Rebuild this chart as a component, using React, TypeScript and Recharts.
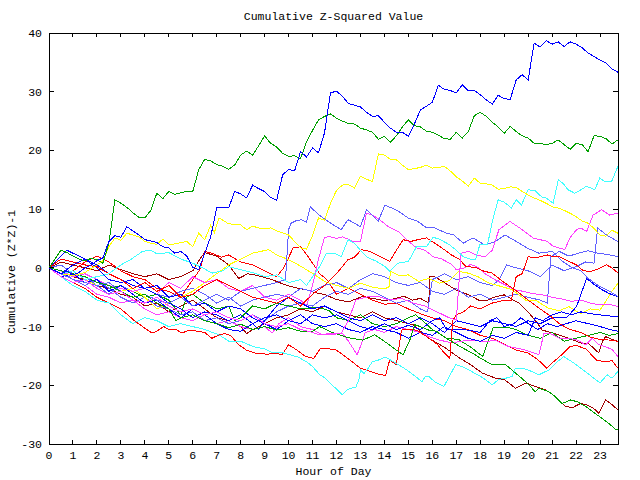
import { LineChart, Line, XAxis, YAxis, ReferenceArea } from "recharts";

// plot frame in page pixels (gnuplot-style box)
const PLOT_LEFT = 49;
const PLOT_RIGHT = 618;
const PLOT_TOP = 33;
const PLOT_BOTTOM = 444;
const FONT = '"Liberation Mono", "DejaVu Sans Mono", monospace';

const HOUR_TICKS = Array.from({ length: 24 }, (_, i) => i);
const VALUE_TICKS = [-30, -20, -10, 0, 10, 20, 30, 40];

type Pt = [number, number];

// [hour, cumulative value]
const blueTop: Pt[] = [[0,0],[0.25,-0.5],[0.5,-1],[0.75,-0.5],[1,-1.2],[1.25,-0.8],[1.5,0],[1.75,0.5],[2,1.2],[2.25,1.7],[2.5,4.5],[2.75,5.5],[3,5.2],[3.25,7],[3.5,6.3],[3.75,5.6],[4,4.8],[4.25,4.6],[4.5,4.3],[4.75,3.6],[5,3.4],[5.25,2.5],[5.5,2.8],[5.75,2],[6,0.1],[6.25,-0.3],[6.5,2.5],[6.75,5.3],[7,10.2],[7.25,10.3],[7.5,10.2],[7.75,13],[8,12.6],[8.25,11.9],[8.5,14.1],[8.75,13.5],[9,13],[9.25,12],[9.5,11.5],[9.75,15.8],[10,16.8],[10.25,16.5],[10.5,19.8],[10.75,18.9],[11,20.4],[11.25,19.6],[11.5,23],[11.75,29.8],[12,30.1],[12.25,29.2],[12.5,28],[12.75,27.7],[13,27.4],[13.25,26.5],[13.5,25.8],[13.75,25.9],[14,24.8],[14.25,23.8],[14.5,23.1],[14.75,23.1],[15,22.4],[15.25,24.5],[15.5,26.9],[15.75,27.5],[16,28.2],[16.25,31.1],[16.5,30.4],[16.75,30.2],[17,29.8],[17.25,31.2],[17.5,30.2],[17.75,30.2],[18,29.5],[18.25,28.6],[18.5,27.9],[18.75,29.4],[19,28.8],[19.25,28.7],[19.5,32],[19.75,32.9],[20,32],[20.25,38.3],[20.5,37.6],[20.75,38.7],[21,38.1],[21.25,38.5],[21.5,37.7],[21.75,38.5],[22,38.1],[22.25,37.5],[22.5,36.6],[22.75,36],[23,35.4],[23.25,34.9],[23.5,33.9],[23.75,33.3]];
const greenTop: Pt[] = [[0,0],[0.25,1.5],[0.5,3],[0.75,2.6],[1,2],[1.25,1.5],[1.5,1.2],[1.75,1.6],[2,1.4],[2.25,0.8],[2.5,4.2],[2.75,11.6],[3,11],[3.25,10.3],[3.5,9.4],[3.75,8.6],[4,8.5],[4.25,9.8],[4.5,12.7],[4.75,11.8],[5,13],[5.25,12.5],[5.5,12.8],[5.75,13],[6,13],[6.25,16.7],[6.5,18.5],[6.75,18.2],[7,17.6],[7.25,17.3],[7.5,16.8],[7.75,17.5],[8,19.2],[8.25,19.9],[8.5,19.2],[8.75,20.8],[9,22.5],[9.25,21.2],[9.5,20.6],[9.75,19.5],[10,19],[10.25,19.1],[10.5,18.6],[10.75,21.5],[11,23.4],[11.25,25.2],[11.5,25.8],[11.75,26.2],[12,25.5],[12.25,25],[12.5,24.6],[12.75,24.5],[13,23.8],[13.25,23.5],[13.5,23.1],[13.75,21.9],[14,22.4],[14.25,21.4],[14.5,22.5],[14.75,24],[15,25.2],[15.25,24.2],[15.5,24],[15.75,23.3],[16,23.1],[16.25,22.6],[16.5,22],[16.75,21.9],[17,23.1],[17.25,22.1],[17.5,23.2],[17.75,25.9],[18,26.5],[18.25,25.8],[18.5,24.8],[18.75,24],[19,22.9],[19.25,24.1],[19.5,23.2],[19.75,22.5],[20,22.1],[20.25,21.2],[20.5,21.2],[20.75,21],[21,21.2],[21.25,21.8],[21.5,21],[21.75,20.2],[22,21.2],[22.25,21],[22.5,19.8],[22.75,22.5],[23,22.4],[23.25,22],[23.5,21.1],[23.75,21.8]];
const yellowTop: Pt[] = [[0,0],[0.5,-1],[1,-1.3],[1.5,-0.8],[2,0.5],[2.25,1.2],[2.5,3.6],[2.75,5.1],[3,4.7],[3.25,5.9],[3.5,5.6],[3.75,5.3],[4,4.5],[4.25,4.2],[4.5,4],[4.75,4.9],[5,3.9],[5.25,4.1],[5.5,4.3],[5.75,4.5],[6,3.6],[6.25,5.9],[6.5,4.8],[6.75,7.3],[6.9,6],[7.1,8.5],[7.5,7.5],[7.75,7.4],[8,7.3],[8.25,6.5],[8.5,7.1],[8.75,6.8],[9,6.7],[9.25,6.8],[9.5,6.3],[10,5.6],[10.25,4.5],[10.5,3.4],[10.75,3.2],[11,5.5],[11.25,8.5],[11.5,8.1],[11.75,11],[12,13.2],[12.25,14.1],[12.5,14.2],[12.75,13.6],[13,15.6],[13.25,15.1],[13.5,14.7],[13.75,19.4],[14,19.2],[14.25,18.5],[14.5,18.4],[14.75,17.5],[15,16.7],[15.25,16.9],[15.5,17.1],[15.75,17.5],[16,17],[16.25,17.1],[16.5,17.3],[16.75,16.5],[17,15.5],[17.25,14.8],[17.5,13.9],[17.75,15.3],[18,14.4],[18.25,14.3],[18.5,14.1],[18.75,13.4],[19,13.5],[19.25,13.8],[19.5,13.7],[19.75,13],[20,12.4],[20.25,11.9],[20.5,11.5],[20.75,11],[21,10.4],[21.25,10.2],[21.5,9.8],[21.75,9.3],[22,8.7],[22.25,8],[22.5,7.6],[22.75,6.7],[23,5.6],[23.25,5.4],[23.5,6.4],[23.75,5.9]];
const cyanTop: Pt[] = [[0,0],[0.5,-1],[1,-0.5],[1.5,-2],[2,-1.5],[2.5,-1],[3,0.5],[3.4,1.4],[3.9,2.8],[4.25,3],[4.5,2.4],[5,2.6],[5.5,1.5],[6,0.8],[6.5,-0.2],[6.8,-0.9],[7.25,-0.5],[7.5,0.2],[8,-0.3],[8.5,-0.8],[9,-1.5],[9.5,-1.2],[10,-2.5],[10.5,-2],[10.75,-3],[11,-1.5],[11.3,0.2],[11.58,2.5],[11.9,2.5],[12.2,1.9],[12.48,4.8],[12.75,4.2],[13,3],[13.25,1.9],[13.67,1.1],[14,0.3],[14.22,-0.6],[14.57,0.8],[15,1.1],[15.34,3.6],[15.75,3.6],[16.03,5.2],[16.3,4.9],[16.73,3.9],[17,3],[17.29,1.9],[17.64,1.4],[17.8,1.4],[17.98,3.9],[18.3,3.9],[18.54,8.5],[18.75,11.6],[19,11.2],[19.3,10.2],[19.5,11.6],[19.72,10.7],[20,13.3],[20.3,13.1],[20.56,12.1],[20.75,11.9],[21.04,11],[21.26,15],[21.45,14.4],[21.67,13.3],[21.95,12.7],[22.2,13.3],[22.44,13.9],[22.78,13.3],[22.99,15.3],[23.2,14.7],[23.48,14.7],[23.75,17.3]];
const magentaHigh: Pt[] = [[0,0],[0.5,-1.5],[1,-2.5],[1.5,-2],[2,-3.5],[2.5,-4.5],[3,-4],[3.5,-5.5],[4,-6],[4.5,-5],[5,-6.5],[5.5,-7.5],[6,-7],[6.5,-8],[7,-7.5],[7.5,-8.5],[8,-9],[8.5,-8],[9,-9.5],[9.5,-10],[10,-9.5],[10.5,-10.5],[11,-11],[11.3,-11.4],[11.7,-11.2],[12.2,-11.1],[12.5,-9],[12.8,-5.5],[13.2,-5],[13.7,-4.8],[14.2,-5.5],[14.7,-5.2],[15.2,-6],[15.7,-6.5],[16.2,-7.5],[16.7,-8.5],[17,-8.9],[17.2,2.5],[17.52,2.8],[17.8,2.2],[18.2,1.9],[18.5,3],[18.78,6.5],[19.24,7.9],[19.65,6.8],[20.2,5.1],[20.8,4.5],[21.04,3.7],[21.53,3.1],[21.74,5.1],[22.02,6.5],[22.2,6.8],[22.44,6.2],[22.71,9],[23.07,9.9],[23.4,9],[23.75,9.3]];
const magentaMid: Pt[] = [[0,0],[0.5,-0.5],[1,-1.5],[1.5,-1],[2,-2],[2.5,-3],[3,-3.5],[3.5,-4],[4,-3.5],[4.5,-4.5],[5,-2.5],[5.5,-3.5],[6,-1.5],[6.5,-2.5],[7,-2],[7.5,-3.5],[8,-4],[8.5,-3],[9,-5],[9.5,-5.5],[10,-4.5],[10.5,-5.5],[10.75,-6.5],[11,-3],[11.25,1.5],[11.5,5.2],[11.72,5.3],[12,5],[12.25,5.3],[12.7,4.5],[13,4.5],[13.25,9.3],[13.5,9],[13.9,7.9],[14.16,7],[14.6,6.1],[14.92,4.8],[15.34,3.4],[15.7,3],[16.03,1.9],[16.4,1.5],[16.8,0.6],[17,-0.3],[17.3,-0.1],[17.6,0.6],[17.9,0.1],[18.2,-1],[18.6,-2],[19,-2.8],[19.4,-3.7],[19.8,-4],[20.2,-4.4],[20.6,-4.6],[21,-5],[21.4,-5.3],[21.8,-5.7],[22.2,-5.5],[22.6,-6],[23,-6.3],[23.4,-6.2],[23.75,-6.6]];
const magentaLow: Pt[] = [[0,0],[0.5,-1],[1,-2],[1.5,-3],[2,-4.5],[2.5,-5],[3,-6],[3.5,-5.5],[4,-7],[4.5,-8],[5,-7.5],[5.5,-8.5],[6,-9],[6.5,-8],[7,-9.5],[7.5,-9],[8,-10],[8.5,-10.5],[9,-10],[9.31,-11.1],[9.6,-9.5],[10,-8.5],[10.5,-10],[11,-10.5],[11.4,-11.4],[11.8,-11.4],[12.23,-11.1],[12.5,-12.5],[12.86,-14.8],[13,-13.4],[13.2,-11],[13.6,-10.5],[14,-11],[14.5,-10],[15,-10.5],[15.5,-11],[15.85,-11.7],[16.3,-12.3],[16.83,-12.8],[17.2,-12.5],[17.66,-12.3],[18.2,-12.6],[18.6,-12.3],[19.19,-13.4],[19.7,-13.8],[20.1,-14.3],[20.45,-14.8],[20.66,-11.1],[21,-11.3],[21.3,-12],[21.7,-12],[22.05,-12.3],[22.4,-13.1],[22.67,-12],[22.95,-13.1],[23.2,-13.4],[23.5,-13.9],[23.75,-15.1]];
const slateA: Pt[] = [[0,0],[0.5,-1],[1,-2],[1.5,-2.5],[2,-3],[2.5,-2.5],[3,-4],[3.5,-5],[4,-4.5],[4.5,-5.5],[5,-6],[5.5,-5],[6,-6.5],[6.5,-5.5],[7,-4.5],[7.5,-5.5],[8,-4],[8.5,-3.5],[9,-3],[9.5,-2.5],[9.87,-2],[10,6.5],[10.1,7.6],[10.3,8],[10.54,8.2],[10.75,7.8],[10.91,10.4],[11.19,9.3],[11.5,8.3],[11.8,7.5],[12.2,6.5],[12.48,8.2],[12.8,7.5],[13,7],[13.25,9.9],[13.74,7.9],[14.02,10.7],[14.3,10.2],[14.6,9.6],[14.99,8.5],[15.4,7.9],[15.76,6.8],[16.1,6.8],[16.59,5.9],[16.9,5.6],[17.29,4.2],[17.7,5.1],[18.19,3.9],[18.6,4.4],[19.03,5.6],[19.5,4.5],[20,3.3],[20.45,2.5],[21,2.8],[21.4,1.2],[21.8,0.1],[22.2,-0.5],[22.5,-1.8],[23,-3.2],[23.4,-4],[23.75,-4.9]];
const slateB: Pt[] = [[0,0],[0.5,0.5],[1,-1],[1.5,-1.5],[2,-3],[2.5,-4.5],[3,-3],[3.5,-4],[4,-3.5],[4.5,-4.5],[5,-5],[5.5,-4],[6,-3.5],[6.5,-4.5],[7,-6],[7.5,-5],[8,-6.5],[8.5,-5.5],[9,-5],[9.5,-4.5],[10,-5],[10.5,-3.5],[11,-4],[11.5,-3],[12,-2.5],[12.5,-3.5],[13,-2],[13.5,-1],[14,-1.5],[14.5,-2.5],[15,-3],[15.5,-2.5],[16,-4],[16.5,-4.5],[17,-3.5],[17.5,-5],[18,-4.5],[18.5,-5.5],[19,-5],[19.5,-4.5],[20,-5],[20.5,-5.5],[20.8,-6],[20.95,1.9],[21.3,2.8],[21.7,2],[22.1,2.5],[22.5,2.9],[22.9,2.5],[23.3,2.3],[23.75,1.9]];
const slateD: Pt[] = [[0,0],[0.5,-0.5],[1,-2],[1.5,-3],[2,-2],[2.5,-3.5],[3,-5],[3.5,-6],[4,-5],[4.5,-6.5],[5,-7],[5.5,-8],[6,-7.5],[6.5,-9],[7,-8.5],[7.5,-9.5],[8,-9],[8.5,-8],[9,-9],[9.5,-7.5],[10,-6.5],[10.5,-6],[11,-6.5],[11.5,-5],[12,-4],[12.5,-4.5],[13,-3.5],[13.5,-4],[14,-5],[14.5,-6],[15,-5.5],[15.5,-7],[15.8,-7.5],[16,-2],[16.5,-1],[17,-2],[17.5,-1.5],[18,-2.5],[18.5,-3],[18.8,-2],[19.1,0.5],[19.5,0],[20,-0.5],[20.5,-1.5],[21,0.5],[21.5,-0.5],[22,0.2],[22.4,1],[22.75,0.8],[22.9,6.8],[23.3,5.5],[23.75,4.5]];
const redA: Pt[] = [[0,0],[0.5,1.5],[1,1],[1.5,0.5],[2,0.2],[2.5,-1],[3,-2],[3.5,-3.5],[4,-2.5],[4.5,-4],[5,-3],[5.5,-5],[6,-4.5],[6.5,-3],[7,-2],[7.5,-3],[8,-4],[8.5,-5],[9,-5.5],[9.5,-6],[10,-5],[10.5,-6.5],[11,-4.5],[11.5,-3],[12,-1],[12.48,1.4],[12.75,1.8],[13.04,3.1],[13.4,2.8],[13.7,2.2],[14.22,1.1],[14.5,3],[14.78,4.8],[15.1,4.5],[15.4,4.8],[15.76,5.1],[16.1,4.2],[16.5,3.1],[16.8,2.2],[17.15,1.4],[17.4,0.2],[17.8,0.1],[18.1,-0.5],[18.5,-0.9],[19,-2.5],[19.54,-4],[20,-5.5],[20.5,-7],[20.86,-8],[21.3,-9.5],[21.74,-10.5],[22.2,-11],[22.6,-11.8],[23,-12.2],[23.4,-12.3],[23.75,-12.5]];
const redLow: Pt[] = [[0,0],[0.5,-1.5],[1,-2.5],[1.5,-3.5],[2,-5],[2.5,-6],[3,-7],[3.54,-8.9],[3.9,-10],[4.3,-11.1],[4.5,-10.8],[4.79,-10],[5,-10.5],[5.3,-10.5],[5.55,-11.1],[5.85,-10.6],[6.2,-10.8],[6.5,-11],[6.8,-12],[7.1,-11.4],[7.35,-11.2],[7.6,-11.6],[7.92,-13.1],[8.24,-14],[8.6,-14.5],[9.08,-14.7],[9.5,-14.6],[9.73,-14.8],[10,-13.1],[10.35,-14],[10.7,-15.1],[11.05,-15.4],[11.33,-13.7],[11.96,-13.9],[12.37,-15.1],[13,-17.1],[13.4,-17.6],[13.8,-18.2],[14.05,-18.3],[14.22,-15.7],[14.5,-16.5],[14.71,-10.6],[15,-10.5],[15.34,-10.6],[15.8,-11.8],[16.2,-13],[16.5,-14.5],[16.73,-15.4],[16.85,-9],[17,-8],[17.3,-7.5],[17.6,-6.5],[18,-7],[18.5,-6],[19,-5.5],[19.3,-5.5],[19.5,-1.5],[19.75,-1],[20,1.9],[20.3,1.7],[20.6,2],[20.8,2.2],[21.04,1.9],[21.3,1.9],[21.55,1.4],[22.02,0.5],[22.3,-0.5],[22.6,-0.6],[22.86,-0.3],[23.27,0.5],[23.5,0],[23.75,-0.9]];
const redC: Pt[] = [[0,0],[0.5,-1],[1,-0.5],[1.5,1],[2,2],[2.5,1],[3,-0.5],[3.5,-1.5],[4,-2],[4.5,-3.5],[5,-4],[5.5,-5],[6,-2],[6.3,-0.3],[6.5,2.8],[6.8,2.5],[7.2,1.8],[7.5,2.2],[8,1],[8.5,0.5],[9,-0.5],[9.5,-1.5],[9.8,0],[10.19,3.4],[10.5,3.6],[10.8,2],[11.3,-1],[11.6,-2],[12,-4.5],[12.5,-3.5],[13,-4.5],[13.5,-5.5],[14,-6.2],[14.5,-6],[15,-7],[15.5,-7.8],[16,-8.5],[16.5,-9],[17,-10],[17.5,-10.5],[18,-11.5],[18.5,-12],[19,-13],[19.5,-14],[20,-14.5],[20.4,-15.6],[20.77,-17.1],[21,-16.2],[21.4,-14.8],[21.74,-13.4],[22,-13.2],[22.4,-13.8],[22.86,-15.7],[23.2,-16],[23.5,-15.8],[23.75,-17.1]];
const darkRedLow: Pt[] = [[0,0],[0.5,-0.5],[1,-1.5],[1.5,-2],[2,-3],[2.5,-3.5],[3,-4.5],[3.5,-5],[4,-6.5],[4.5,-6],[5,-7.5],[5.5,-6.5],[6,-5.5],[6.5,-7],[7,-8.5],[7.5,-9],[8,-10],[8.25,-11.2],[8.5,-10.5],[9,-9.5],[9.5,-8.5],[10,-8],[10.5,-7],[11,-7.5],[11.5,-6.5],[12,-7.5],[12.5,-8],[13,-8.5],[13.5,-7.5],[14,-8.5],[14.5,-9],[15.2,-9.7],[15.85,-12],[16.5,-13.5],[17.15,-15.4],[17.6,-16.5],[18.08,-17.9],[18.64,-18.8],[19,-19],[19.47,-20.5],[19.9,-19.6],[20.3,-20.2],[20.73,-20.8],[21.14,-21.9],[21.56,-23.6],[21.85,-23.8],[22.19,-23.1],[22.5,-23.4],[22.75,-24],[22.95,-24.8],[23.23,-22.5],[23.5,-23.3],[23.75,-24.2]];
const darkRedMid: Pt[] = [[0,0],[0.5,1],[1,0.5],[1.5,0],[2,-0.5],[2.5,0.5],[3,-0.3],[3.5,-1],[4,-1.5],[4.5,-1],[5,-2],[5.5,-1.5],[6,-0.5],[6.3,1.5],[6.5,2.6],[7,2],[7.5,0.5],[7.92,-1.8],[8.3,-1],[8.7,-1.3],[9.31,-2],[9.8,-2.8],[10.2,-3.3],[10.7,-3.7],[11.1,-4.2],[11.54,-4.6],[12,-5.4],[12.5,-5.8],[13.07,-4.9],[13.5,-5.2],[14,-5.6],[14.5,-5.2],[14.8,-4.8],[15.16,-5.5],[15.5,-5.2],[15.85,-6],[15.9,-1.5],[16.1,-1.5],[16.5,-2.5],[17,-3.8],[17.52,-4.6],[17.94,-5.5],[18.3,-5.5],[18.64,-4.9],[19,-4.6],[19.3,-5.3],[19.61,-6],[20,-7.5],[20.3,-9],[20.59,-10.6],[21.2,-11.3],[21.7,-12],[22.19,-12.8],[22.5,-12.8],[22.95,-14.5],[23.1,-12.5],[23.23,-11.7],[23.5,-12.2],[23.75,-12.5]];
const greenLow: Pt[] = [[0,0],[0.5,-0.5],[1,-1],[1.5,-1.5],[2,-2.5],[2.5,-3],[3,-4],[3.5,-5],[4,-4.5],[4.5,-6],[5,-7],[5.3,-9],[5.5,-8.5],[6,-8],[6.5,-9],[7,-9.5],[7.5,-10.2],[8,-9.6],[8.5,-10.5],[9,-10],[9.5,-10.6],[10,-10.2],[10.5,-10.8],[11,-10.8],[11.3,-10],[11.7,-10.8],[12.1,-11.4],[12.6,-12],[13.1,-12.3],[13.6,-11.4],[14.1,-12.8],[14.5,-14],[14.78,-14.8],[15.06,-12.3],[15.27,-9.7],[15.5,-10],[15.85,-10.6],[16.17,-10.8],[16.5,-11.8],[16.83,-12.6],[17.2,-13.5],[17.66,-14.5],[18.1,-15.6],[18.5,-16.5],[19.06,-16.5],[19.47,-17.9],[19.9,-19.4],[20.3,-21.1],[20.45,-20.5],[20.86,-21.1],[21.15,-22],[21.42,-23.1],[21.77,-22.5],[22.05,-22.8],[22.4,-23.6],[22.8,-24.8],[23.1,-25.7],[23.37,-26.5],[23.65,-27.5],[23.75,-27.5]];
const greenMid: Pt[] = [[0,0],[0.5,-1],[1,-2],[1.5,-2.5],[2,-2],[2.5,-3.5],[3,-3],[3.5,-4],[4,-5],[4.5,-4.5],[5,-5.5],[5.5,-8],[5.75,-5],[6,-4.5],[6.5,-6],[7,-7],[7.5,-6.5],[7.75,-9],[8,-8.5],[8.5,-6.5],[9,-7],[9.5,-6],[10,-6.5],[10.5,-7],[11,-6.8],[11.3,-6.8],[11.7,-7.3],[12,-8.5],[12.5,-9],[13,-8],[13.5,-9.5],[14,-10],[14.5,-9.5],[15,-8.5],[15.3,-8],[15.6,-9],[16,-10.5],[16.6,-12],[17.1,-12.2],[17.6,-13.5],[18.1,-15.1],[18.4,-11.7],[18.55,-10.1],[19.1,-10.1],[19.5,-10.5],[20,-11.5],[20.5,-12],[21,-11],[21.5,-12.5],[22,-12],[22.5,-11.5],[23,-11],[23.4,-11.5],[23.75,-11.2]];
const yellowMid: Pt[] = [[0,0],[0.5,-1],[1,-0.5],[1.5,-2],[2,-3],[2.5,-2.5],[3,-4],[3.5,-3.5],[4,-5],[4.5,-7],[5,-6],[5.5,-5],[6,-4],[6.5,-2.5],[7,-1],[7.5,0.5],[8,1.5],[8.5,2.5],[9.17,3.1],[9.5,2.2],[10,1.4],[10.5,0.3],[11.1,-1.2],[11.5,-2.3],[12,-3],[12.5,-3.5],[13,-2.6],[13.5,-3.3],[14,-3.6],[14.2,-3.2],[14.25,-0.6],[14.6,-1.3],[15,-1.2],[15.43,-2.3],[15.85,-1.8],[16.3,-2.6],[16.7,-2.2],[17.1,-0.6],[17.5,-0.9],[17.9,-1.5],[18.36,-2.6],[18.9,-3.2],[19.33,-3.7],[19.9,-5.5],[20.3,-5.5],[20.86,-6.9],[21.3,-7.3],[21.7,-6.6],[22.2,-7.8],[22.6,-7],[23,-7.2],[23.3,-5.3],[23.5,-4],[23.75,-2.6]];
const cyanLow: Pt[] = [[0,0],[0.5,-1.5],[1,-3],[1.5,-4],[2,-5.5],[2.5,-6],[3,-8],[3.5,-9.5],[4,-8.5],[4.5,-9],[5,-10],[5.5,-9.5],[6,-10],[6.5,-10.5],[7.09,-11.4],[7.55,-12.6],[8,-12.5],[8.52,-13.4],[9,-13.8],[9.35,-14.5],[9.7,-14.4],[10.05,-14.8],[10.4,-15.2],[10.75,-16],[11,-16.8],[11.3,-18.2],[11.54,-18.8],[11.96,-20.5],[12.23,-21.6],[12.45,-20.8],[12.58,-20.5],[12.8,-20.4],[12.93,-19.1],[13,-17.4],[13.14,-18],[13.28,-17.4],[13.49,-16],[13.75,-15.7],[14.05,-15.2],[14.46,-16.2],[14.9,-17.3],[15.3,-18.5],[15.57,-19.4],[15.7,-18.5],[15.85,-18.5],[16.1,-19.4],[16.48,-20.2],[16.62,-19.2],[16.97,-16.5],[17.25,-16.8],[17.66,-17.7],[18.1,-18.7],[18.5,-19.9],[18.78,-19],[19.06,-18.8],[19.33,-18.5],[19.47,-17.1],[19.8,-17.1],[20,-17.4],[20.45,-18.2],[20.86,-17.4],[21.21,-16],[21.49,-15.1],[21.9,-16.2],[22.4,-17.7],[22.8,-19],[23,-19.6],[23.3,-18.2],[23.5,-18.8],[23.75,-17.6]];
const blueMid: Pt[] = [[0,0],[0.5,-1.5],[1,-1],[1.5,-2.5],[2,-2],[2.5,-4],[3,-3],[3.5,-4.5],[4,-6],[4.5,-5.5],[5,-7],[5.5,-8.5],[6,-7],[6.5,-8],[7,-9.5],[7.5,-10.5],[8,-10.8],[8.5,-9.5],[8.75,-10.5],[9,-9],[9.5,-6.5],[10,-5],[10.5,-6],[11,-7],[11.5,-6.5],[12,-7.5],[12.5,-8.5],[13,-9],[13.5,-8],[14,-9],[14.5,-8.5],[15,-9.5],[15.5,-8.5],[16,-9.5],[16.5,-11],[17,-9],[17.5,-9.5],[18,-10],[18.5,-9],[19,-9.5],[19.5,-10],[20,-9],[20.5,-9.5],[21,-8.5],[21.6,-8.5],[22.02,-6.6],[22.44,-1.8],[22.75,-2.8],[23.07,-3.7],[23.4,-4.4],[23.75,-4.9]];
const blueLow: Pt[] = [[0,0],[0.5,2],[0.75,3],[1,2.5],[1.5,1.5],[2,0.5],[2.5,-1],[3,-2],[3.5,-3],[4,-3.5],[4.5,-4.5],[5,-6],[5.5,-7],[6,-8.5],[6.5,-7.5],[7,-8],[7.5,-9],[8,-8],[8.5,-9.5],[9,-8.5],[9.5,-8],[10,-9],[10.5,-9.5],[11,-8],[11.5,-8.5],[12,-8],[12.5,-9],[13,-10],[13.5,-10.5],[14,-9.5],[14.5,-10.5],[15,-9.8],[15.5,-10.5],[16,-9],[16.3,-8.5],[16.6,-10.5],[17,-10.5],[17.5,-10.6],[18,-11],[18.4,-9],[18.7,-8.5],[19,-10],[19.4,-9.5],[19.7,-8.5],[20,-9.5],[20.4,-10.5],[20.8,-9.5],[21.2,-10],[21.6,-9.5],[22,-9],[22.5,-9.5],[23,-10],[23.4,-10.5],[23.75,-10.8]];
const blueLate: Pt[] = [[0,0],[0.5,-1],[1,0.5],[1.5,1.5],[2,0],[2.5,-2],[3,-2.5],[3.5,-2],[4,-3.5],[4.5,-3],[5,-5],[5.5,-4.5],[6,-6.5],[6.5,-6],[7,-7.5],[7.5,-6.5],[8,-7],[8.5,-8.5],[9,-9.5],[9.5,-10.5],[10,-9],[10.5,-8],[11,-9.5],[11.5,-10],[12,-9.5],[12.5,-10.5],[13,-11],[13.5,-10],[14,-10.5],[14.5,-11],[15,-12],[15.5,-11],[16,-11.5],[16.5,-10],[17,-11],[17.5,-12],[18,-12.5],[18.5,-11.5],[19,-12],[19.5,-11],[20,-11.5],[20.3,-8.5],[20.6,-9],[21,-8],[21.4,-7.5],[21.8,-8],[22.2,-7.5],[22.6,-7.8],[23,-8],[23.4,-8.2],[23.75,-8.3]];

const SERIES: { name: string; color: string; pts: Pt[] }[] = [
  { name: "darkRedLow", color: "#a00000", pts: darkRedLow },
  { name: "darkRedMid", color: "#a00000", pts: darkRedMid },
  { name: "redC", color: "#ff0000", pts: redC },
  { name: "greenMid", color: "#00a000", pts: greenMid },
  { name: "magentaLow", color: "#ff40ff", pts: magentaLow },
  { name: "slateB", color: "#6060ff", pts: slateB },
  { name: "slateD", color: "#6060ff", pts: slateD },
  { name: "yellowMid", color: "#ffff00", pts: yellowMid },
  { name: "magentaMid", color: "#ff40ff", pts: magentaMid },
  { name: "blueLate", color: "#0000ff", pts: blueLate },
  { name: "blueLow", color: "#0000ff", pts: blueLow },
  { name: "blueMid", color: "#0000ff", pts: blueMid },
  { name: "slateA", color: "#6060ff", pts: slateA },
  { name: "redA", color: "#ff0000", pts: redA },
  { name: "redLow", color: "#ff0000", pts: redLow },
  { name: "cyanLow", color: "#40ffff", pts: cyanLow },
  { name: "greenLow", color: "#00a000", pts: greenLow },
  { name: "magentaHigh", color: "#ff40ff", pts: magentaHigh },
  { name: "cyanTop", color: "#40ffff", pts: cyanTop },
  { name: "yellowTop", color: "#ffff00", pts: yellowTop },
  { name: "greenTop", color: "#00a000", pts: greenTop },
  { name: "blueTop", color: "#0000ff", pts: blueTop },
];

function HourTick(props: any) {
  const { x, y, payload } = props;
  const cx = payload.coordinate;
  return (
    <g>
      <line x1={cx} y1={PLOT_BOTTOM} x2={cx} y2={PLOT_BOTTOM - 4} stroke="#000" />
      <line x1={cx} y1={PLOT_TOP} x2={cx} y2={PLOT_TOP + 4} stroke="#000" />
      <text x={x} y={y} dy="0.35em" textAnchor="middle" fontFamily={FONT} fontSize={11.5} fill="#000">
        {payload.value}
      </text>
    </g>
  );
}

function ValueTick(props: any) {
  const { x, y, payload } = props;
  const cy = payload.coordinate;
  return (
    <g>
      <line x1={PLOT_LEFT} y1={cy} x2={PLOT_LEFT + 5} y2={cy} stroke="#000" />
      <line x1={PLOT_RIGHT} y1={cy} x2={PLOT_RIGHT - 5} y2={cy} stroke="#000" />
      <text x={x} y={y} dy="0.35em" textAnchor="end" fontFamily={FONT} fontSize={11.5} fill="#000">
        {payload.value}
      </text>
    </g>
  );
}

export default function App() {
  return (
    <div style={{ position: "absolute", left: 0, top: 0, width: 640, height: 480, background: "#fff", shapeRendering: "crispEdges", fontFamily: FONT, fontSize: 11.5 }}>
      <LineChart
        width={640}
        height={480}
        margin={{ top: PLOT_TOP, right: 640 - PLOT_RIGHT, bottom: 0, left: 0 }}
      >
        <XAxis
          type="number"
          dataKey="h"
          domain={[0, 23.75]}
          ticks={HOUR_TICKS}
          interval={0}
          height={480 - PLOT_BOTTOM}
          axisLine={false}
          tickLine={false}
          tickSize={0}
          tickMargin={11}
          tick={<HourTick />}
          allowDataOverflow
        />
        <YAxis
          type="number"
          dataKey="v"
          domain={[-30, 40]}
          ticks={VALUE_TICKS}
          interval={0}
          width={PLOT_LEFT}
          axisLine={false}
          tickLine={false}
          tickSize={0}
          tickMargin={7}
          tick={<ValueTick />}
          allowDataOverflow
        />
        {SERIES.map((s) => (
          <Line
            key={s.name}
            data={s.pts.map(([h, v]) => ({ h, v }))}
            dataKey="v"
            type="linear"
            stroke={s.color}
            strokeWidth={1}
            dot={false}
            activeDot={false}
            isAnimationActive={false}
          />
        ))}
        <ReferenceArea x1={0} x2={23.75} y1={-30} y2={40} fill="none" stroke="#000" strokeWidth={1} />
      </LineChart>
      <div style={{ position: "absolute", left: PLOT_LEFT, width: PLOT_RIGHT - PLOT_LEFT, top: 10, lineHeight: "13px", textAlign: "center" }}>
        Cumulative Z-Squared Value
      </div>
      <div style={{ position: "absolute", left: PLOT_LEFT, width: PLOT_RIGHT - PLOT_LEFT, top: 465, lineHeight: "13px", textAlign: "center" }}>
        Hour of Day
      </div>
      <div style={{ position: "absolute", left: 11, top: 272, lineHeight: "13px", whiteSpace: "nowrap", transform: "translate(-50%, -50%) rotate(-90deg)" }}>
        Cumulative (Z*Z)-1
      </div>
    </div>
  );
}
